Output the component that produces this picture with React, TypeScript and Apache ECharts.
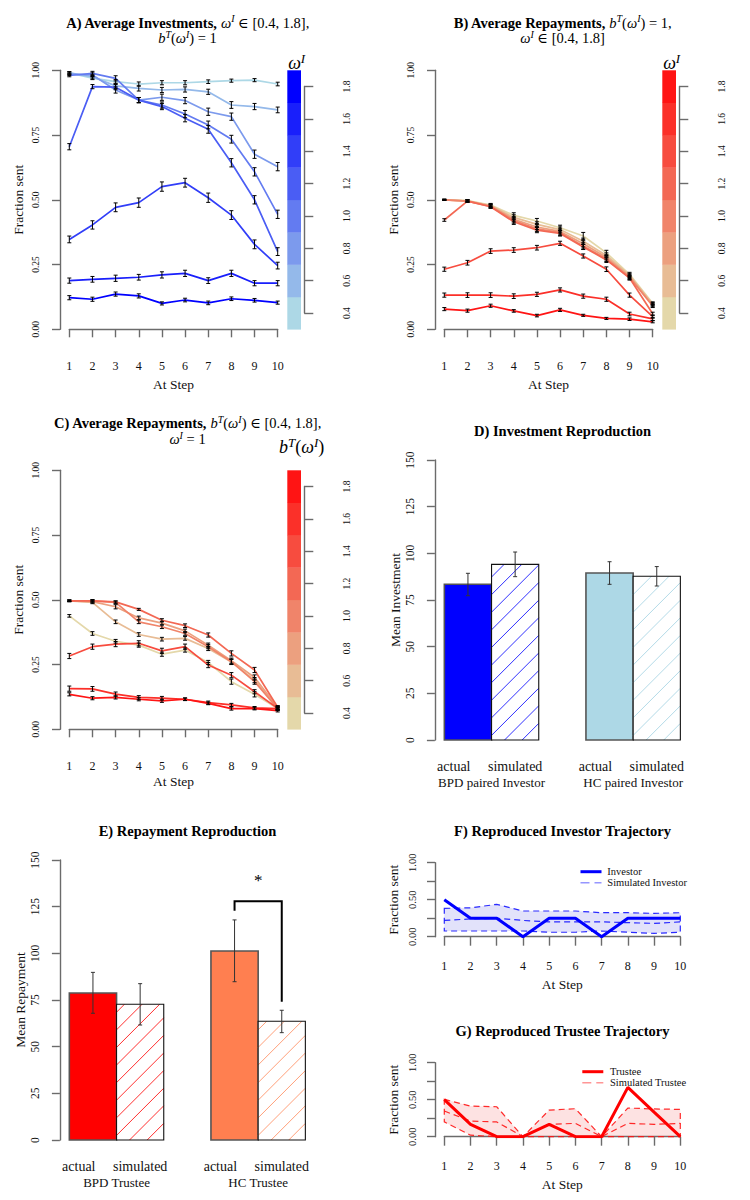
import React, { useEffect, useRef } from "react";
import * as echarts from "echarts";

const FONT = "'Liberation Serif', 'DejaVu Serif', serif";
const AXIS_COLOR = "#6b6b6b";
const TXT = "#111111";

const steps = [1, 2, 3, 4, 5, 6, 7, 8, 9, 10];
const levels = [0.4, 0.6, 0.8, 1.0, 1.2, 1.4, 1.6, 1.8];

const bluePalette = ["#add8e6", "#94b9ea", "#7c9aed", "#637bf1", "#4a5df4", "#313ef8", "#191ffb", "#0000ff"];
const redPalette = ["#e4d8aa", "#e8bc95", "#eca07f", "#f0846a", "#f36854", "#f74c3f", "#fb3029", "#ff1414"];

// Panel A: average investments, one row per omega level (0.4 ... 1.8)
const investA = [
  [0.99, 0.97, 0.956, 0.947, 0.952, 0.952, 0.956, 0.96, 0.962, 0.947],
  [0.99, 0.975, 0.94, 0.93, 0.924, 0.926, 0.917, 0.866, 0.86, 0.847],
  [0.985, 0.982, 0.924, 0.885, 0.896, 0.883, 0.84, 0.821, 0.676, 0.628],
  [0.98, 0.988, 0.969, 0.885, 0.866, 0.831, 0.789, 0.734, 0.608, 0.444],
  [0.705, 0.937, 0.935, 0.885, 0.86, 0.815, 0.772, 0.643, 0.5, 0.3],
  [0.347, 0.403, 0.471, 0.489, 0.551, 0.566, 0.508, 0.441, 0.328, 0.246],
  [0.188, 0.193, 0.197, 0.201, 0.21, 0.216, 0.188, 0.216, 0.178, 0.178],
  [0.122, 0.116, 0.136, 0.129, 0.1, 0.113, 0.102, 0.118, 0.112, 0.103],
];
const errA = [
  [0.004, 0.006, 0.008, 0.008, 0.008, 0.008, 0.007, 0.006, 0.006, 0.007],
  [0.005, 0.008, 0.01, 0.01, 0.01, 0.01, 0.01, 0.013, 0.012, 0.011],
  [0.005, 0.008, 0.012, 0.01, 0.012, 0.012, 0.014, 0.014, 0.016, 0.016],
  [0.005, 0.008, 0.01, 0.01, 0.012, 0.014, 0.015, 0.015, 0.016, 0.016],
  [0.012, 0.008, 0.01, 0.01, 0.012, 0.014, 0.015, 0.016, 0.016, 0.015],
  [0.013, 0.016, 0.017, 0.018, 0.018, 0.017, 0.018, 0.017, 0.017, 0.013],
  [0.01, 0.011, 0.012, 0.011, 0.012, 0.012, 0.011, 0.012, 0.01, 0.01],
  [0.008, 0.008, 0.008, 0.008, 0.006, 0.007, 0.007, 0.007, 0.007, 0.006],
];

// Panel B: average repayments across omega levels
const repayB = [
  [0.5, 0.497, 0.48, 0.44, 0.418, 0.392, 0.36, 0.295, 0.212, 0.1],
  [0.5, 0.496, 0.478, 0.432, 0.405, 0.385, 0.34, 0.285, 0.208, 0.097],
  [0.5, 0.495, 0.476, 0.425, 0.395, 0.378, 0.33, 0.278, 0.204, 0.093],
  [0.5, 0.495, 0.474, 0.42, 0.388, 0.373, 0.322, 0.272, 0.2, 0.09],
  [0.422, 0.495, 0.473, 0.415, 0.383, 0.37, 0.318, 0.268, 0.198, 0.06],
  [0.232, 0.257, 0.302, 0.306, 0.315, 0.332, 0.283, 0.232, 0.132, 0.049],
  [0.132, 0.132, 0.132, 0.128, 0.135, 0.152, 0.128, 0.116, 0.059, 0.04],
  [0.078, 0.072, 0.091, 0.071, 0.053, 0.075, 0.054, 0.042, 0.039, 0.029],
];
const errB = [
  [0.002, 0.004, 0.006, 0.01, 0.01, 0.01, 0.014, 0.01, 0.008, 0.006],
  [0.002, 0.004, 0.006, 0.01, 0.01, 0.01, 0.012, 0.01, 0.008, 0.006],
  [0.002, 0.004, 0.006, 0.01, 0.01, 0.01, 0.012, 0.01, 0.008, 0.006],
  [0.002, 0.004, 0.006, 0.01, 0.01, 0.01, 0.012, 0.01, 0.008, 0.006],
  [0.005, 0.004, 0.006, 0.01, 0.01, 0.01, 0.01, 0.01, 0.008, 0.006],
  [0.008, 0.009, 0.009, 0.009, 0.009, 0.008, 0.008, 0.009, 0.008, 0.006],
  [0.008, 0.009, 0.009, 0.009, 0.008, 0.008, 0.008, 0.008, 0.007, 0.006],
  [0.006, 0.006, 0.006, 0.005, 0.005, 0.006, 0.004, 0.004, 0.005, 0.004],
];

// Panel C: average repayments across b^T levels
const repayC = [
  [0.438, 0.37, 0.34, 0.325, 0.29, 0.306, 0.258, 0.184, 0.135, 0.08],
  [0.496, 0.49, 0.415, 0.366, 0.348, 0.351, 0.312, 0.26, 0.19, 0.08],
  [0.496, 0.493, 0.473, 0.43, 0.41, 0.38, 0.325, 0.265, 0.2, 0.085],
  [0.496, 0.496, 0.49, 0.415, 0.396, 0.37, 0.319, 0.261, 0.184, 0.08],
  [0.496, 0.496, 0.492, 0.463, 0.421, 0.4, 0.364, 0.293, 0.229, 0.085],
  [0.283, 0.319, 0.329, 0.332, 0.303, 0.319, 0.248, 0.209, 0.145, 0.081],
  [0.157, 0.156, 0.136, 0.123, 0.12, 0.116, 0.103, 0.094, 0.083, 0.08],
  [0.135, 0.12, 0.123, 0.116, 0.11, 0.116, 0.1, 0.08, 0.08, 0.072],
];
const errC = [
  [0.005, 0.007, 0.007, 0.008, 0.008, 0.008, 0.008, 0.01, 0.01, 0.006],
  [0.003, 0.005, 0.007, 0.007, 0.007, 0.007, 0.008, 0.01, 0.01, 0.006],
  [0.003, 0.005, 0.008, 0.007, 0.007, 0.007, 0.008, 0.01, 0.01, 0.006],
  [0.003, 0.005, 0.005, 0.007, 0.007, 0.007, 0.008, 0.01, 0.01, 0.006],
  [0.003, 0.004, 0.004, 0.004, 0.006, 0.007, 0.008, 0.01, 0.01, 0.006],
  [0.01, 0.01, 0.01, 0.01, 0.01, 0.01, 0.01, 0.01, 0.008, 0.006],
  [0.01, 0.009, 0.008, 0.007, 0.007, 0.005, 0.006, 0.006, 0.005, 0.005],
  [0.006, 0.006, 0.006, 0.006, 0.006, 0.005, 0.005, 0.006, 0.005, 0.005],
];

// Panels D and E: bar reproduction
const barLabels = ["actual", "simulated"];
const invGroups = ["BPD paired Investor", "HC paired Investor"];
const invMeans = [83.4, 94.1, 89.5, 87.7];
const invLow = [77.3, 87.5, 83.4, 82.5];
const invHigh = [89.3, 100.7, 95.5, 92.9];
const repGroups = ["BPD Trustee", "HC Trustee"];
const repMeans = [78.75, 72.7, 101.25, 63.6];
const repLow = [67.9, 61.6, 84.8, 57.5];
const repHigh = [89.8, 83.75, 117.9, 69.5];
const sigTop = 127.9;
const sigLeftEnd = 122.8;
const sigRightEnd = 74.1;
const sigStar = 138.9;

// Panels F and G: reproduced trajectories
const investorTraj = [0.5, 0.25, 0.25, 0, 0.25, 0.25, 0, 0.25, 0.25, 0.25];
const simInvUpper = [0.383, 0.39, 0.437, 0.347, 0.347, 0.347, 0.324, 0.324, 0.315, 0.324];
const simInvMid = [0.22, 0.24, 0.25, 0.22, 0.2, 0.2, 0.2, 0.19, 0.18, 0.2];
const simInvLower = [0.077, 0.077, 0.077, 0.077, 0.06, 0.06, 0.077, 0.06, 0.045, 0.06];
const trusteeTraj = [0.5, 0.167, 0, 0, 0.167, 0, 0, 0.667, 0.333, 0];
const simTrUpper = [0.505, 0.414, 0.405, 0, 0.36, 0.378, 0, 0.387, 0.375, 0.369];
const simTrMid = [0.347, 0.21, 0.2, 0, 0.167, 0.18, 0, 0.18, 0.167, 0.18];
const simTrLower = [0.2, 0.02, 0, 0, 0, 0, 0, 0, 0, 0];

function richStyles(size: number) {
  const sup = Math.round(size * 0.7);
  return {
    b: { fontFamily: FONT, fontSize: size, fontWeight: "bold", fill: "#000", lineHeight: size + 4, verticalAlign: "middle" },
    r: { fontFamily: FONT, fontSize: size, fill: "#000", lineHeight: size + 4, verticalAlign: "middle" },
    i: { fontFamily: FONT, fontSize: size, fontStyle: "italic", fill: "#000", lineHeight: size + 4, verticalAlign: "middle" },
    s: { fontFamily: FONT, fontSize: sup, fontStyle: "italic", fill: "#000", lineHeight: sup, verticalAlign: "top" },
  };
}

function buildOption() {
  const grid: any[] = [];
  const xAxis: any[] = [];
  const yAxis: any[] = [];
  const series: any[] = [];
  const graphic: any[] = [];

  const axLine = { show: true, lineStyle: { color: AXIS_COLOR, width: 1.4 } };
  const axTick = (len: number) => ({ show: true, length: len, lineStyle: { color: AXIS_COLOR, width: 1.4 } });
  const nameStyle = { fontFamily: FONT, fontSize: 13.5, color: TXT };

  const addGrid = (left: number, top: number, width: number, height: number) => {
    grid.push({ left, top, width, height, containLabel: false });
    return grid.length - 1;
  };

  const mtext = (x: number, y: number, tokens: string[][], size: number) => {
    graphic.push({
      type: "text",
      x,
      y,
      silent: true,
      style: {
        text: tokens.map(([k, t]) => `{${k}|${t}}`).join(""),
        rich: richStyles(size),
        align: "center",
        verticalAlign: "middle",
      },
    });
  };

  const linePanel = (left: number, top: number, matrix: number[][], errs: number[][], palette: string[], xGap: number) => {
    const gi = addGrid(left, top, 208.4, 259);
    xAxis.push({
      gridIndex: gi, type: "value", min: 1, max: 10, interval: 1, offset: 10.5,
      axisLine: axLine, axisTick: axTick(8), splitLine: { show: false },
      axisLabel: { fontFamily: FONT, fontSize: 12, color: TXT, margin: 20 },
      name: "At Step", nameLocation: "middle", nameGap: xGap, nameTextStyle: nameStyle,
    });
    yAxis.push({
      gridIndex: gi, type: "value", min: 0, max: 1, interval: 0.25, offset: 9.3,
      axisLine: axLine, axisTick: axTick(8), splitLine: { show: false },
      axisLabel: { fontFamily: FONT, fontSize: 9.5, color: TXT, margin: 19, rotate: 90, formatter: (v: number) => v.toFixed(2) },
      name: "Fraction sent", nameLocation: "middle", nameGap: 35, nameRotate: 90, nameTextStyle: nameStyle,
    });
    matrix.forEach((vals, k) => {
      series.push({
        type: "line", xAxisIndex: gi, yAxisIndex: gi, silent: true, showSymbol: false, z: 2,
        data: steps.map((s, i) => [s, vals[i]]),
        lineStyle: { color: palette[k], width: 1.7 }, itemStyle: { color: palette[k] },
      });
    });
    const ed: number[][] = [];
    matrix.forEach((vals, k) => vals.forEach((v, i) => ed.push([steps[i], v, errs[k][i]])));
    series.push({
      type: "custom", coordinateSystem: "cartesian2d", xAxisIndex: gi, yAxisIndex: gi, silent: true, z: 3,
      data: ed,
      renderItem: (_p: any, api: any) => {
        const x = api.value(0), y = api.value(1), e = api.value(2);
        const a = api.coord([x, y + e]);
        const b = api.coord([x, y - e]);
        const c = 2;
        const st = { stroke: "#000", lineWidth: 1 };
        return {
          type: "group",
          children: [
            { type: "line", shape: { x1: a[0], y1: a[1], x2: b[0], y2: b[1] }, style: st },
            { type: "line", shape: { x1: a[0] - c, y1: a[1], x2: a[0] + c, y2: a[1] }, style: st },
            { type: "line", shape: { x1: b[0] - c, y1: b[1], x2: b[0] + c, y2: b[1] }, style: st },
          ],
        };
      },
    });
  };

  const colorbar = (left: number, top: number, palette: string[], axisX: number) => {
    const h = 259;
    const gi = addGrid(left, top, 13.7, h);
    xAxis.push({ gridIndex: gi, type: "value", min: 0, max: 1, show: false });
    yAxis.push({ gridIndex: gi, type: "value", min: 0.3, max: 1.9, show: false });
    series.push({
      type: "custom", coordinateSystem: "cartesian2d", xAxisIndex: gi, yAxisIndex: gi, silent: true,
      data: levels.map((w, k) => [w, k]),
      renderItem: (_p: any, api: any) => {
        const w = api.value(0), k = api.value(1);
        const a = api.coord([0, w + 0.1]);
        const b = api.coord([1, w - 0.1]);
        return { type: "rect", shape: { x: a[0], y: a[1], width: b[0] - a[0], height: b[1] - a[1] + 0.3 }, style: { fill: palette[k] } };
      },
    });
    const gj = addGrid(axisX - 10, top + h / 16, 10, (h * 14) / 16);
    xAxis.push({ gridIndex: gj, type: "value", min: 0, max: 1, show: false });
    yAxis.push({
      gridIndex: gj, type: "value", position: "right", min: 0.4, max: 1.8, interval: 0.2,
      axisLine: axLine, axisTick: axTick(9), splitLine: { show: false },
      axisLabel: { fontFamily: FONT, fontSize: 9.5, color: TXT, margin: 28, rotate: 90, formatter: (v: number) => v.toFixed(1) },
    });
  };

  const barPanel = (left: number, top: number, means: number[], lows: number[], highs: number[], fills: string[], hatches: string[], groups: string[], yName: string, bracket: boolean) => {
    const gi = addGrid(left, top, 254.9, 280);
    xAxis.push({ gridIndex: gi, type: "value", min: 0.8, max: 6.2, show: false });
    yAxis.push({
      gridIndex: gi, type: "value", min: 0, max: 150, interval: 25,
      axisLine: axLine, axisTick: axTick(8), splitLine: { show: false },
      axisLabel: { fontFamily: FONT, fontSize: 11.5, color: TXT, margin: 19, rotate: 90 },
      name: yName, nameLocation: "middle", nameGap: 32, nameRotate: 90, nameTextStyle: nameStyle,
    });
    series.push({
      type: "custom", coordinateSystem: "cartesian2d", xAxisIndex: gi, yAxisIndex: gi, silent: true,
      data: means.map((m, i) => [i, m, lows[i], highs[i]]),
      renderItem: (_p: any, api: any) => {
        const i = api.value(0);
        const g = Math.floor(i / 2), b = i % 2;
        const u0 = 1 + b + 3 * g;
        const tl = api.coord([u0, api.value(1)]);
        const br = api.coord([u0 + 1, 0]);
        const x0 = tl[0], y0 = tl[1], w = br[0] - tl[0], h = br[1] - tl[1];
        const children: any[] = [];
        children.push({ type: "rect", shape: { x: x0, y: y0, width: w, height: h }, style: { fill: b === 0 ? fills[g] : "#ffffff" } });
        if (b === 1) {
          const s = 17.6;
          let c = 13;
          while (c > -h) c -= s;
          for (; c < w; c += s) {
            const dmin = Math.max(0, c), dmax = Math.min(w, c + h);
            if (dmax > dmin) {
              children.push({ type: "line", shape: { x1: x0 + dmin, y1: br[1] - (dmin - c), x2: x0 + dmax, y2: br[1] - (dmax - c) }, style: { stroke: hatches[g], lineWidth: 1 } });
            }
          }
        }
        children.push({ type: "rect", shape: { x: x0, y: y0, width: w, height: h }, style: { fill: "none", stroke: b === 0 ? "#555555" : "#111111", lineWidth: b === 0 ? 1.6 : 1.1 } });
        const cx = x0 + w / 2;
        const hi = api.coord([u0 + 0.5, api.value(3)]);
        const lo = api.coord([u0 + 0.5, api.value(2)]);
        const est = { stroke: "#333", lineWidth: 1 };
        children.push({ type: "line", shape: { x1: cx, y1: hi[1], x2: cx, y2: lo[1] }, style: est });
        children.push({ type: "line", shape: { x1: cx - 2, y1: hi[1], x2: cx + 2, y2: hi[1] }, style: est });
        children.push({ type: "line", shape: { x1: cx - 2, y1: lo[1], x2: cx + 2, y2: lo[1] }, style: est });
        const lx = api.coord([u0 + (b === 0 ? 0.2 : 0.5), 0])[0];
        children.push({ type: "text", x: lx, y: br[1] + 26, style: { text: barLabels[b], fontFamily: FONT, fontSize: 14, fill: TXT, align: "center", verticalAlign: "middle" } });
        if (b === 0) {
          children.push({ type: "text", x: br[0], y: br[1] + 42, style: { text: groups[g], fontFamily: FONT, fontSize: 13, fill: TXT, align: "center", verticalAlign: "middle" } });
        }
        return { type: "group", children };
      },
    });
    if (bracket) {
      series.push({
        type: "custom", coordinateSystem: "cartesian2d", xAxisIndex: gi, yAxisIndex: gi, silent: true,
        data: [[4.5, 5.5, sigTop, sigLeftEnd, sigRightEnd, sigStar]],
        renderItem: (_p: any, api: any) => {
          const l = api.coord([api.value(0), api.value(2)]);
          const r = api.coord([api.value(1), api.value(2)]);
          const le = api.coord([api.value(0), api.value(3)]);
          const re = api.coord([api.value(1), api.value(4)]);
          const st = api.coord([(api.value(0) + api.value(1)) / 2, api.value(5)]);
          return {
            type: "group",
            children: [
              { type: "polyline", shape: { points: [[le[0], le[1]], [l[0], l[1]], [r[0], r[1]], [re[0], re[1]]] }, style: { stroke: "#000", lineWidth: 2, fill: "none" } },
              { type: "text", x: st[0], y: st[1], style: { text: "*", fontFamily: FONT, fontSize: 17, fill: "#000", align: "center", verticalAlign: "middle" } },
            ],
          };
        },
      });
    }
  };

  const trajPanel = (top: number, actual: number[], upper: number[], mid: number[], lower: number[], mainColor: string, simColor: string, fillColor: string) => {
    const gi = addGrid(444.3, top, 236, 74);
    xAxis.push({
      gridIndex: gi, type: "value", min: 1, max: 10, interval: 1, offset: 2.6,
      axisLine: axLine, axisTick: axTick(9), splitLine: { show: false },
      axisLabel: { fontFamily: FONT, fontSize: 12, color: TXT, margin: 21 },
      name: "At Step", nameLocation: "middle", nameGap: 38, nameTextStyle: nameStyle,
    });
    yAxis.push({
      gridIndex: gi, type: "value", min: 0, max: 1, interval: 0.25, offset: 9.3,
      axisLine: axLine, axisTick: axTick(8), splitLine: { show: false },
      axisLabel: { fontFamily: FONT, fontSize: 10.5, color: TXT, margin: 17, rotate: 90, formatter: (v: number) => (Math.abs(v - 0.25) < 1e-6 || Math.abs(v - 0.75) < 1e-6 ? "" : v.toFixed(2)) },
      name: "Fraction sent", nameLocation: "middle", nameGap: 35, nameRotate: 90, nameTextStyle: nameStyle,
    });
    series.push({
      type: "custom", coordinateSystem: "cartesian2d", xAxisIndex: gi, yAxisIndex: gi, silent: true, z: 1,
      data: [[1, 0]],
      renderItem: (_p: any, api: any) => {
        const pts = steps.map((s, i) => api.coord([s, upper[i]])).concat(steps.map((s, i) => api.coord([s, lower[i]])).reverse());
        return { type: "polygon", shape: { points: pts }, style: { fill: fillColor, stroke: simColor, lineWidth: 1.2, lineDash: [6, 4] } };
      },
    });
    series.push({
      type: "line", xAxisIndex: gi, yAxisIndex: gi, silent: true, showSymbol: false, z: 2,
      data: steps.map((s, i) => [s, mid[i]]),
      lineStyle: { color: simColor, width: 1.2, type: [6, 4] },
    });
    series.push({
      type: "line", xAxisIndex: gi, yAxisIndex: gi, silent: true, showSymbol: false, z: 3,
      data: steps.map((s, i) => [s, actual[i]]),
      lineStyle: { color: mainColor, width: 3 },
    });
  };

  // Titles
  const T = 14.5;
  mtext(187.5, 22.7, [["b", "A) Average Investments, "], ["i", "ω"], ["s", "I"], ["r", " ∈ [0.4, 1.8],"]], T);
  mtext(187.5, 38.3, [["i", "b"], ["s", "T"], ["r", "("], ["i", "ω"], ["s", "I"], ["r", ") = 1"]], T);
  mtext(562.5, 22.7, [["b", "B) Average Repayments, "], ["i", "b"], ["s", "T"], ["r", "("], ["i", "ω"], ["s", "I"], ["r", ") = 1,"]], T);
  mtext(562.5, 38.3, [["i", "ω"], ["s", "I"], ["r", " ∈ [0.4, 1.8]"]], T);
  mtext(187.5, 423.3, [["b", "C) Average Repayments, "], ["i", "b"], ["s", "T"], ["r", "("], ["i", "ω"], ["s", "I"], ["r", ") ∈ [0.4, 1.8],"]], T);
  mtext(187.5, 439.3, [["i", "ω"], ["s", "I"], ["r", " = 1"]], T);
  mtext(562.5, 430.7, [["b", "D) Investment Reproduction"]], T);
  mtext(187.5, 830.7, [["b", "E) Repayment Reproduction"]], T);
  mtext(562.5, 830.7, [["b", "F) Reproduced Investor Trajectory"]], T);
  mtext(562.5, 1030.7, [["b", "G) Reproduced Trustee Trajectory"]], T);

  // Colorbar captions
  mtext(296.7, 63, [["i", "ω"], ["s", "I"]], 18);
  mtext(671.7, 63, [["i", "ω"], ["s", "I"]], 18);
  mtext(301.7, 446.7, [["i", "b"], ["s", "T"], ["r", "("], ["i", "ω"], ["s", "I"], ["r", ")"]], 18);

  linePanel(69.3, 70.3, investA, errA, bluePalette, 38);
  colorbar(287.3, 70.3, bluePalette, 314.3);
  linePanel(444.3, 70.3, repayB, errB, redPalette, 38);
  colorbar(662.3, 70.3, redPalette, 689.3);
  linePanel(69.3, 470.3, repayC, errC, redPalette, 35);
  colorbar(287.3, 470.3, redPalette, 314.3);

  barPanel(434.9, 460, invMeans, invLow, invHigh, ["#0000ff", "#add8e6"], ["#3030ff", "#b4dbe8"], invGroups, "Mean Investment", false);
  barPanel(59.9, 860, repMeans, repLow, repHigh, ["#ff0000", "#ff7f50"], ["#ff3030", "#ffa07a"], repGroups, "Mean Repayment", true);

  trajPanel(862.7, investorTraj, simInvUpper, simInvMid, simInvLower, "#0000ff", "rgba(20,20,255,0.9)", "rgba(60,60,220,0.15)");
  trajPanel(1062.7, trusteeTraj, simTrUpper, simTrMid, simTrLower, "#ff0000", "rgba(255,20,20,0.9)", "rgba(240,60,60,0.15)");

  // Legends for F and G
  const legend = (y1: number, y2: number, x0: number, tx: number, main: string, sim: string, n1: string, n2: string) => {
    graphic.push({ type: "line", silent: true, shape: { x1: x0, y1, x2: x0 + 21, y2: y1 }, style: { stroke: main, lineWidth: 3 } });
    graphic.push({ type: "line", silent: true, shape: { x1: x0, y1: y2, x2: x0 + 21, y2: y2 }, style: { stroke: sim, lineWidth: 1.5, lineDash: [9, 5] } });
    graphic.push({ type: "text", silent: true, x: tx, y: y1, style: { text: n1, fontFamily: FONT, fontSize: 10.5, fill: TXT, align: "left", verticalAlign: "middle" } });
    graphic.push({ type: "text", silent: true, x: tx, y: y2, style: { text: n2, fontFamily: FONT, fontSize: 10.5, fill: TXT, align: "left", verticalAlign: "middle" } });
  };
  legend(871.7, 882.7, 580.5, 607.3, "#0000ff", "rgba(80,80,255,0.6)", "Investor", "Simulated Investor");
  legend(1071.7, 1082.7, 582.3, 610, "#ff0000", "rgba(255,80,80,0.6)", "Trustee", "Simulated Trustee");

  return {
    animation: false,
    backgroundColor: "#ffffff",
    textStyle: { fontFamily: FONT },
    grid,
    xAxis,
    yAxis,
    series,
    graphic,
  };
}

export default function App() {
  const ref = useRef<HTMLDivElement>(null);
  useEffect(() => {
    if (!ref.current) return;
    const chart = echarts.init(ref.current, undefined, { renderer: "svg", width: 750, height: 1200 });
    chart.setOption(buildOption() as any);
    return () => chart.dispose();
  }, []);
  return <div ref={ref} style={{ position: "absolute", left: 0, top: 0, width: 750, height: 1200, background: "#fff" }} />;
}
